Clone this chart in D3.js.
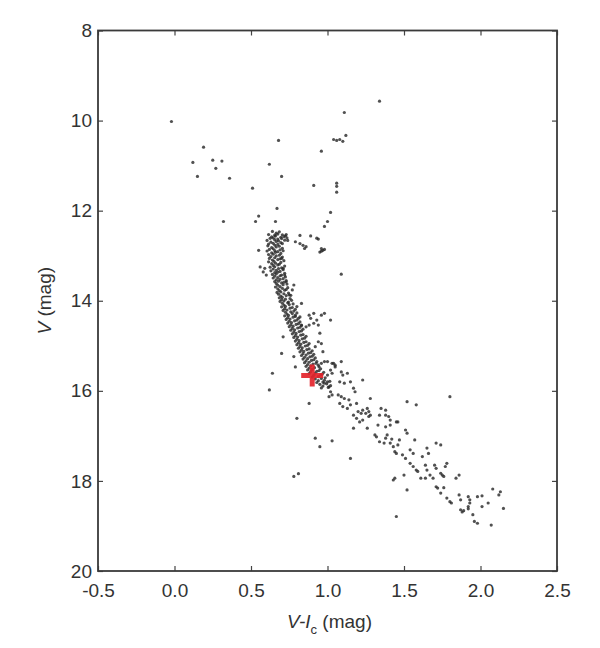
<!DOCTYPE html>
<html>
<head>
<meta charset="utf-8">
<script src="https://cdn.jsdelivr.net/npm/d3@7"></script>
<style>
  html, body { margin: 0; padding: 0; background: #fff; }
  svg { display: block; }
  text { font-family: "Liberation Sans", Arial, Helvetica, sans-serif; }
</style>
</head>
<body>
<svg id="chart" width="600" height="648"></svg>
<script>
// ---- axis ticks ----
const xTicks = [-0.5, 0.0, 0.5, 1.0, 1.5, 2.0, 2.5];
const yTicks = [8, 10, 12, 14, 16, 18, 20];
const xDomain = [-0.5, 2.5];
const yDomain = [8, 20];

// ---- star data: [V-Ic, V] ----
const blueStragglers = [
  [-0.02,10.02],[0.19,10.59],[0.12,10.93],[0.25,10.88],[0.31,10.90],[0.27,11.06],
  [0.15,11.24],[0.36,11.28],[0.51,11.50],[0.62,10.97],[0.68,10.44],[0.70,11.24],
  [0.67,11.95],[0.55,12.12],[0.53,12.24],[0.32,12.24],[0.66,12.24]
];
const giantBranch = [
  [1.34,9.57],[1.11,9.82],[1.04,10.42],[1.06,10.44],[1.08,10.42],[1.10,10.46],[1.12,10.33],
  [0.96,10.68],[0.91,11.44],[1.06,11.39],[1.06,11.46],[1.06,11.59],[1.02,12.04],
  [1.00,12.24],[0.98,12.35],[1.09,13.41]
];
const subgiantBranch = [
  [0.73,12.53],[0.74,12.66],[0.82,12.55],[0.89,12.56],[0.94,12.63],[0.93,12.61],
  [0.79,12.69],[0.82,12.73],[0.84,12.77],[0.86,12.80],[0.85,12.84],[0.96,12.84],
  [0.95,12.92],[0.97,12.88],[0.98,12.86],[0.96,12.90]
];
const mainSequenceUpper = [
  [0.64,12.46],[0.665,12.50],[0.685,12.47],[0.615,12.53],[0.655,12.545],[0.675,12.52],
  [0.705,12.535],[0.725,12.56],[0.635,12.58],[0.66,12.565],[0.695,12.59],[0.715,12.575],
  [0.625,12.615],[0.645,12.605],[0.675,12.63],[0.70,12.62],[0.735,12.605],
  [0.605,12.66],[0.655,12.645],[0.68,12.67],[0.72,12.655],[0.63,12.70],[0.665,12.685],
  [0.695,12.71],[0.615,12.74],[0.645,12.725],[0.675,12.75],[0.705,12.73],[0.61,12.78],
  [0.655,12.765],[0.685,12.79],[0.635,12.82],[0.665,12.805],[0.705,12.835],[0.62,12.86],
  [0.645,12.845],[0.69,12.87],[0.605,12.895],[0.655,12.885],[0.675,12.91],[0.71,12.89],
  [0.635,12.935],[0.66,12.925],[0.695,12.95],[0.615,12.975],[0.645,12.965],[0.685,12.99],
  [0.63,13.02],[0.665,13.005],[0.705,13.03],[0.62,13.06],[0.655,13.045],[0.69,13.07],
  [0.64,13.095],[0.675,13.085],[0.715,13.11],[0.615,13.135],[0.65,13.125],[0.695,13.15],
  [0.635,13.175],[0.66,13.165],[0.685,13.19],[0.645,13.215],[0.675,13.205],[0.72,13.23],
  [0.625,13.255],[0.655,13.245],[0.70,13.27],[0.645,13.295],[0.68,13.285],[0.71,13.31],
  [0.63,13.335],[0.665,13.325],[0.69,13.35],[0.655,13.375],[0.675,13.365],[0.72,13.39],
  [0.64,13.415],[0.665,13.405],[0.70,13.43],[0.655,13.455],[0.69,13.445],[0.725,13.47],
  [0.645,13.495],[0.675,13.485],
  [0.71,13.51],[0.665,13.535],[0.69,13.525],[0.73,13.55],[0.655,13.575],[0.68,13.565],
  [0.715,13.59],[0.665,13.615],[0.70,13.605],[0.735,13.63],[0.675,13.655],[0.71,13.645],
  [0.66,13.695],[0.69,13.685],[0.74,13.71],[0.675,13.735],[0.705,13.725],[0.73,13.75],
  [0.685,13.775],[0.72,13.765],[0.67,13.815],[0.695,13.805],[0.745,13.83],[0.68,13.855],
  [0.715,13.845],[0.75,13.87],[0.695,13.895],[0.73,13.885],[0.685,13.935],[0.705,13.925],
  [0.755,13.95],[0.70,13.975],[0.725,13.965],[0.765,13.99],[0.69,14.015],[0.715,14.005],
  [0.745,14.03],[0.705,14.055],[0.74,14.045],[0.775,14.07],[0.715,14.095],[0.75,14.085],
  [0.70,14.135],[0.725,14.125],[0.77,14.15],[0.72,14.175],[0.755,14.165],[0.79,14.19],
  [0.71,14.215],[0.735,14.205],[0.78,14.23],[0.725,14.255],[0.76,14.245],[0.80,14.27],
  [0.735,14.295],[0.77,14.285],[0.72,14.335],[0.745,14.325],[0.79,14.35],[0.74,14.375],
  [0.775,14.365],[0.81,14.39],[0.73,14.415],[0.755,14.405],[0.80,14.43],[0.75,14.455],
  [0.785,14.445],[0.82,14.47],[0.74,14.495],[0.765,14.485],
  [0.81,14.51],[0.76,14.535],[0.795,14.525],[0.83,14.55],[0.75,14.575],[0.775,14.565],
  [0.82,14.59],[0.77,14.615],[0.805,14.605],[0.84,14.63],[0.76,14.655],[0.785,14.645],
  [0.83,14.67],[0.78,14.695],[0.815,14.685],[0.77,14.735],[0.795,14.725],[0.84,14.75],
  [0.79,14.775],[0.825,14.765],[0.86,14.79],[0.78,14.815],[0.805,14.805],[0.85,14.83],
  [0.80,14.855],[0.835,14.845],[0.79,14.895],[0.815,14.885],[0.86,14.91],[0.81,14.935],
  [0.845,14.925],[0.88,14.95],[0.80,14.975],[0.825,14.965],[0.87,14.99],[0.82,15.015],
  [0.855,15.005],[0.81,15.055],[0.835,15.045],[0.88,15.07],[0.83,15.095],[0.865,15.085],
  [0.90,15.11],[0.82,15.135],[0.845,15.125],[0.89,15.15],[0.84,15.175],[0.875,15.165],
  [0.91,15.19],[0.83,15.215],[0.86,15.205],[0.90,15.23],[0.85,15.255],[0.885,15.245],
  [0.92,15.27],[0.84,15.295],[0.87,15.285],[0.91,15.31],[0.86,15.335],[0.895,15.325],
  [0.93,15.35],[0.85,15.375],[0.88,15.365],[0.925,15.39],[0.87,15.415],[0.905,15.405],
  [0.94,15.43],[0.86,15.455],[0.89,15.445],[0.945,15.47],[0.88,15.495],[0.915,15.485],
  [0.955,15.51],
  [0.87,15.535],[0.90,15.525],[0.945,15.55],[0.89,15.575],[0.93,15.565],[0.975,15.59],
  [0.88,15.615],[0.92,15.605],[0.965,15.63],[0.91,15.655],[0.955,15.645],[0.90,15.695],
  [0.94,15.685],[0.985,15.71],[0.92,15.735],[0.96,15.725],[0.94,15.775],[0.98,15.765],
  [1.015,15.79],[0.93,15.815],[0.97,15.805],[0.95,15.855],[0.995,15.845],[0.97,15.895],
  [1.02,15.885],[0.96,15.935],[1.005,15.925]
];
const mainSequenceScatter = [
  [0.55,12.88],[0.56,13.25],[0.59,13.28],[0.58,13.36],[0.60,13.43],
  [0.71,13.28],[0.72,13.43],[0.73,13.58],[0.78,13.65],[0.77,13.76],[0.76,13.88],
  [0.83,14.06],[0.70,13.06],
  [0.80,14.13],[0.79,14.32],[0.82,14.36],[0.88,14.32],[0.91,14.28],[0.96,14.32],
  [0.98,14.28],[0.93,14.43],[1.02,14.43],[0.88,14.54],[0.91,14.50],[0.94,14.54],
  [0.71,14.80],[0.95,14.72],[0.94,14.91],[0.96,14.95],[0.92,15.02],[0.70,15.17],
  [0.78,15.24],[0.97,15.13],[1.00,15.35],[1.03,15.39],[1.05,15.43],[0.79,15.47],
  [1.09,15.58],[0.83,14.54],[0.86,14.58],[0.89,14.39],
  [0.96,15.39],[0.98,15.35],[1.04,15.39],[1.05,15.47],[1.09,15.35],[1.02,15.54],
  [1.00,15.65],[1.03,15.61],[1.10,15.65],[1.13,15.61],[1.23,15.76],[0.98,15.83],
  [1.01,15.91],[1.00,15.80],[1.08,15.80],[1.11,15.83],[1.15,15.80],[1.17,15.94],
  [1.18,16.02],[1.02,16.02],[1.03,16.09],[1.01,16.13],[1.07,16.09],[1.09,16.13],
  [1.11,16.17],[1.14,16.20],[1.28,16.17],[1.08,16.28],[1.10,16.35],[1.13,16.39],
  [1.15,16.31],[1.19,16.28],[1.20,16.46],[1.22,16.50],[1.26,16.39],[1.27,16.46],
  [1.28,16.54],[1.35,16.39],[1.38,16.43],[1.34,16.54],[1.38,16.54],[1.17,16.54],
  [1.19,16.61],[1.21,16.69],[1.23,16.65],[1.41,16.65],[1.45,16.69],[1.17,16.83],
  [1.26,16.83],[1.33,16.76],[1.38,16.80],
  [1.23,16.43],[1.25,16.50],[1.27,16.57],[1.40,16.57],[1.52,16.24],[1.58,16.31],
  [1.46,16.69],[1.41,16.76],[1.51,16.87],[1.52,16.94],[1.31,16.98],[1.32,17.02],
  [1.34,17.13],[1.37,17.16],[1.39,16.98],[1.38,17.05],[1.41,17.16],[1.43,17.24],
  [1.44,17.35],[1.45,17.39],[1.47,17.09],[1.46,17.20],[1.57,17.09],[1.49,17.42],
  [1.51,17.50],[1.54,17.31],[1.56,17.39],[1.65,17.27],[1.66,17.39],[1.71,17.16],
  [1.74,17.20],[1.62,17.46],[1.54,17.61],[1.56,17.68],[1.58,17.76],[1.59,17.79],
  [1.64,17.65],[1.65,17.76],[1.70,17.65],[1.71,17.72],[1.78,17.61],[1.77,17.68],
  [1.74,17.83],[1.75,17.87],[1.50,17.87],[1.44,17.94],[1.69,17.94],[1.86,17.87],
  [1.84,17.94],
  [1.80,16.13],[1.42,17.07],[1.61,17.94],[1.64,17.94],[1.67,17.87],[1.76,17.90],
  [1.43,17.98],[1.71,18.13],[1.72,18.16],[1.76,18.15],[1.52,18.20],[1.74,18.27],
  [1.78,18.38],[1.80,18.46],[1.81,18.49],[1.86,18.31],[1.87,18.42],[1.92,18.35],
  [1.93,18.42],[1.98,18.35],[2.01,18.33],[2.05,18.49],[2.08,18.18],[2.13,18.24],
  [2.12,18.31],[2.15,18.61],[1.87,18.64],[1.89,18.66],[1.88,18.69],[1.92,18.62],
  [1.92,18.57],[2.01,18.57],[1.95,18.75],[1.98,18.94],[1.96,18.90],[2.07,18.98],
  [1.45,18.79],[1.93,18.49]
];
const fieldStars = [
  [0.64,15.61],[0.62,15.98],[0.88,16.28],[0.80,16.61],[0.92,17.05],[0.95,17.24],
  [1.03,17.11],[1.15,17.50],[0.78,17.90],[0.81,17.84]
];
const targetStar = [0.90, 15.66];

// ---- drawing ----
const svg = d3.select("#chart");
const margin = { left: 98, right: 43, top: 30.5, bottom: 77 };
const W = 600, H = 648;
const x = d3.scaleLinear().domain(xDomain).range([margin.left, W - margin.right]);
const y = d3.scaleLinear().domain(yDomain).range([margin.top, H - margin.bottom]);

const fmtX = d => d.toFixed(1);
const labelColor = "#333";
const fontSize = 19;

const allStars = [].concat(blueStragglers, giantBranch, subgiantBranch,
                           mainSequenceUpper, mainSequenceScatter, fieldStars);

svg.append("g")
  .selectAll("circle")
  .data(allStars)
  .join("circle")
  .attr("cx", d => x(d[0]))
  .attr("cy", d => y(d[1]))
  .attr("r", 1.6)
  .attr("fill", "#262626")
  .attr("fill-opacity", 0.8);

// axes (ticks pointing inward)
function styleAxis(g, showLabels) {
  g.select(".domain").remove();
  g.selectAll(".tick line").attr("stroke", "#444").attr("stroke-width", 1.2);
  g.selectAll(".tick text")
    .attr("fill", labelColor)
    .style("font-size", fontSize + "px")
    .style("font-family", '"Liberation Sans", Arial, sans-serif');
  if (!showLabels) g.selectAll(".tick text").remove();
}

svg.append("g")
  .attr("transform", `translate(0,${y(20)})`)
  .call(d3.axisBottom(x).tickValues(xTicks).tickFormat(fmtX).tickSize(-5).tickPadding(13))
  .call(g => styleAxis(g, true));

svg.append("g")
  .attr("transform", `translate(0,${y(8)})`)
  .call(d3.axisTop(x).tickValues(xTicks).tickSize(-5))
  .call(g => styleAxis(g, false));

svg.append("g")
  .attr("transform", `translate(${x(-0.5)},0)`)
  .call(d3.axisLeft(y).tickValues(yTicks).tickFormat(d3.format("d")).tickSize(-5).tickPadding(6))
  .call(g => styleAxis(g, true));

svg.append("g")
  .attr("transform", `translate(${x(2.5)},0)`)
  .call(d3.axisRight(y).tickValues(yTicks).tickSize(-5))
  .call(g => styleAxis(g, false));

// frame
svg.append("rect")
  .attr("x", x(-0.5)).attr("y", y(8))
  .attr("width", x(2.5) - x(-0.5)).attr("height", y(20) - y(8))
  .attr("fill", "none").attr("stroke", "#3a3a3a").attr("stroke-width", 1.8);

// target star marker (red plus)
const tx = x(targetStar[0]), ty = y(targetStar[1]);
svg.append("path")
  .attr("d", `M${tx - 11},${ty}H${tx + 11}M${tx},${ty - 11}V${ty + 11}`)
  .attr("stroke", "#e3242b").attr("stroke-width", 5).attr("stroke-opacity", 0.92)
  .attr("fill", "none");

// axis titles
const xt = svg.append("text")
  .attr("x", (x(-0.5) + x(2.5)) / 2 + 2).attr("y", 628)
  .attr("text-anchor", "middle")
  .attr("fill", labelColor)
  .style("font-size", fontSize + "px");
xt.append("tspan").style("font-style", "italic").text("V-I");
xt.append("tspan").attr("dy", 6).style("font-size", "13px").text("c");
xt.append("tspan").attr("dy", -6).text(" (mag)");

const yt = svg.append("text")
  .attr("transform", `translate(51,${(y(8) + y(20)) / 2}) rotate(-90)`)
  .attr("text-anchor", "middle")
  .attr("fill", labelColor)
  .style("font-size", fontSize + "px");
yt.append("tspan").style("font-style", "italic").text("V");
yt.append("tspan").text(" (mag)");
</script>
</body>
</html>
